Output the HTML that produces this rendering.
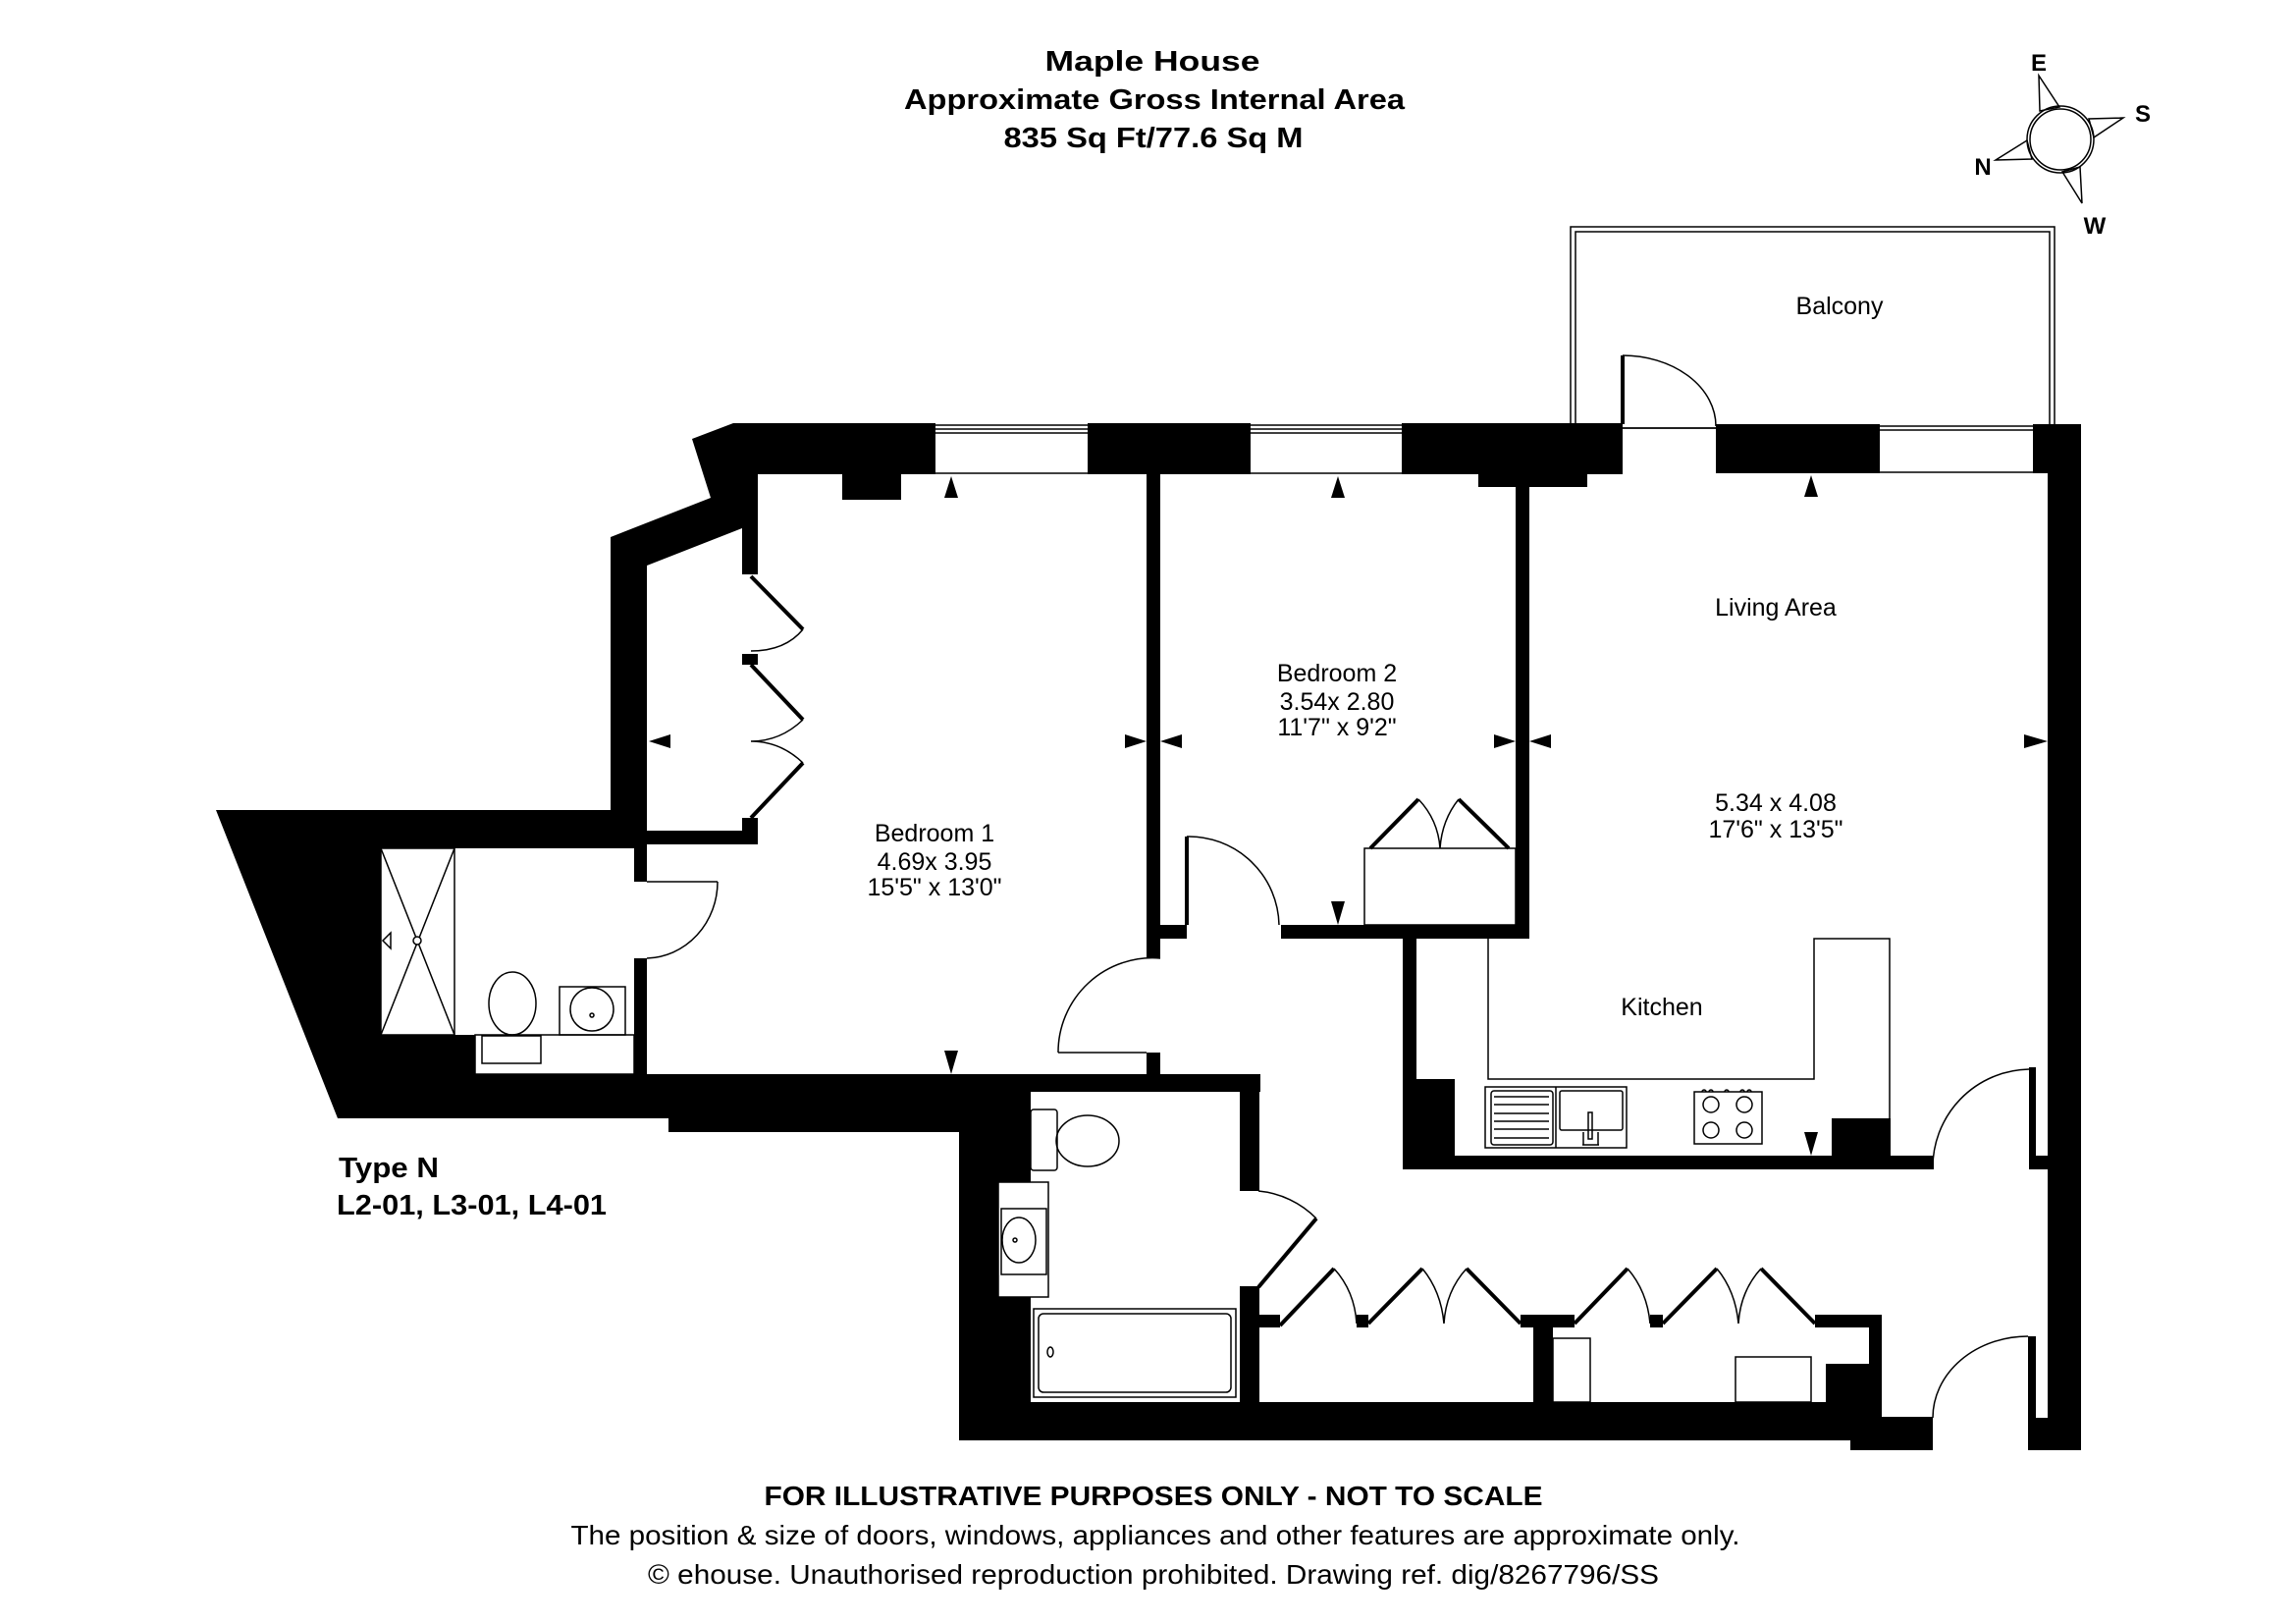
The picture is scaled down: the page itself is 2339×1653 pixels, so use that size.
<!DOCTYPE html>
<html><head><meta charset="utf-8"><style>
html,body{margin:0;padding:0;background:#fff;}
svg{display:block;}
text{font-family:"Liberation Sans",Arial,sans-serif;fill:#000;}
.b{font-weight:bold;}
.t{stroke:#000;stroke-width:1.5;fill:none;}
.tw{stroke:#000;stroke-width:1.5;fill:#fff;}
.l{stroke:#000;stroke-width:4;fill:none;}
</style></head><body>
<svg width="2339" height="1653" viewBox="0 0 2339 1653" xmlns="http://www.w3.org/2000/svg">
<rect width="2339" height="1653" fill="#fff"/>
<!-- Title -->
<text class="b" x="1174" y="72" font-size="29" text-anchor="middle" textLength="219" lengthAdjust="spacingAndGlyphs">Maple House</text>
<text class="b" x="1176" y="111" font-size="29" text-anchor="middle" textLength="510" lengthAdjust="spacingAndGlyphs">Approximate Gross Internal Area</text>
<text class="b" x="1175" y="150" font-size="29" text-anchor="middle" textLength="305" lengthAdjust="spacingAndGlyphs">835 Sq Ft/77.6 Sq M</text>

<!-- Compass -->
<g>
<circle cx="2099" cy="142" r="34" class="t" stroke-width="2"/>
<circle cx="2099" cy="142" r="31" class="t"/>
<polygon points="2077,77 2078,113 2098,109" class="t"/>
<polygon points="2163,120 2128,121 2133,140" class="t"/>
<polygon points="2033,163 2070,162 2065,143" class="t"/>
<polygon points="2121,207 2119,170 2101,175" class="t"/>
<text class="b" x="2077" y="72" font-size="24" text-anchor="middle">E</text>
<text class="b" x="2183" y="124" font-size="24" text-anchor="middle">S</text>
<text class="b" x="2020" y="178" font-size="24" text-anchor="middle">N</text>
<text class="b" x="2134" y="238" font-size="24" text-anchor="middle">W</text>
</g>

<!-- Balcony -->
<rect x="1600" y="231" width="493" height="205" class="t"/>
<rect x="1605" y="236" width="483" height="200" class="t"/>
<text x="1874" y="320" font-size="25" text-anchor="middle">Balcony</text>

<!-- Walls -->
<g fill="#000">
<rect x="747" y="431" width="906" height="52"/>
<rect x="858" y="483" width="60" height="26"/>
<rect x="1506" y="483" width="111" height="13"/>
<rect x="1748" y="432" width="167" height="50"/>
<rect x="1915" y="432" width="205" height="50"/>
<rect x="2086" y="432" width="34" height="1045"/>
<polygon points="705,447 747,431 790,431 790,483 772,483 772,585 756,585 756,538 659,576 659,846 622,846 622,547 724,507"/>
<rect x="756" y="666" width="16" height="11"/>
<rect x="756" y="833" width="16" height="27"/>
<rect x="622" y="846" width="150" height="14"/>
<polygon points="220,825 659,825 659,1139 344,1139"/>
<rect x="646" y="1094" width="638" height="18"/>
<rect x="646" y="1112" width="331" height="27"/>
<rect x="681" y="1139" width="296" height="14"/>
<rect x="977" y="1094" width="73" height="373"/>
<rect x="977" y="1428" width="940" height="39"/>
<rect x="1263" y="1094" width="20" height="119"/>
<rect x="1263" y="1310" width="20" height="157"/>
<rect x="1168" y="483" width="14" height="493"/>
<rect x="1182" y="942" width="27" height="14"/>
<rect x="1168" y="1072" width="14" height="22"/>
<rect x="1305" y="942" width="253" height="14"/>
<rect x="1544" y="483" width="14" height="473"/>
<rect x="1429" y="956" width="14" height="235"/>
<rect x="1429" y="1099" width="53" height="92"/>
<rect x="1429" y="1177" width="541" height="14"/>
<rect x="1866" y="1139" width="60" height="38"/>
<rect x="2067" y="1087" width="7" height="104"/>
<rect x="2067" y="1177" width="19" height="14"/>
<rect x="1282" y="1339" width="22" height="13"/>
<rect x="1382" y="1339" width="12" height="13"/>
<rect x="1549" y="1339" width="55" height="13"/>
<rect x="1562" y="1339" width="20" height="90"/>
<rect x="1681" y="1339" width="13" height="13"/>
<rect x="1849" y="1339" width="68" height="13"/>
<rect x="1904" y="1339" width="13" height="105"/>
<rect x="1860" y="1389" width="57" height="40"/>
<rect x="1885" y="1428" width="32" height="20"/>
<rect x="1885" y="1443" width="84" height="34"/>
<rect x="2066" y="1361" width="8" height="83"/>
<rect x="2066" y="1444" width="54" height="33"/>
</g>

<rect x="388" y="864" width="258" height="190" fill="#fff"/>
<rect x="484" y="1053" width="162" height="41" fill="#fff"/>
<rect x="646" y="898" width="14" height="78" fill="#fff"/>

<!-- windows -->
<g>
<rect x="953" y="431" width="155" height="52" fill="#fff"/>
<rect x="1274" y="431" width="154" height="52" fill="#fff"/>
<rect x="1915" y="432" width="156" height="50" fill="#fff"/>
<path d="M953 433H1108M953 437H1108M953 441H1108M953 482H1108 M1274 433H1428M1274 437H1428M1274 441H1428M1274 482H1428 M1915 434H2071M1915 438H2071M1915 481H2071" class="t"/>
</g>

<!-- Bathroom 1 fixtures -->
<rect x="388" y="864" width="75" height="190" class="t"/>
<path d="M388 864L463 1054M463 864L388 1054" class="t" stroke-width="1"/>
<circle cx="425" cy="958" r="4" class="tw"/>
<polygon points="398,950 390,958 398,966" class="t"/>
<ellipse cx="522" cy="1022" rx="24" ry="32" class="t"/>
<rect x="491" y="1055" width="60" height="28" class="t"/>
<rect x="570" y="1005" width="67" height="49" class="t"/>
<circle cx="603" cy="1028" r="22" class="t"/>
<circle cx="603" cy="1034" r="2" class="t"/>
<rect x="484" y="1054" width="162" height="40" class="t"/>
<path d="M659 898H731" class="t"/>
<path d="M731 898A74 78 0 0 1 659 976" class="t"/>

<!-- Bed1 wardrobe doors -->
<path d="M765 587L818 641M765 677L818 733M818 777L765 833" class="l"/>
<path d="M818 641Q800 663 765 663M818 733Q795 755 765 755Q795 755 818 777" class="t"/>

<!-- Bed2 wardrobe -->
<rect x="1390" y="864" width="154" height="78" class="t"/>
<path d="M1396 864L1445 814M1537 864L1486 814" class="l"/>
<path d="M1445 814Q1465 835 1467 864Q1469 835 1486 814" class="t"/>

<!-- doors -->
<path d="M1078 1072H1168" class="t"/>
<path d="M1078 1072A96 96 0 0 1 1182 976" class="t"/>
<path d="M1209 942V852" class="l" stroke-width="3"/>
<path d="M1209 852A92 92 0 0 1 1303 942" class="t"/>
<path d="M1653 432V362" class="l" stroke-width="4"/>
<path d="M1653 362A95 72 0 0 1 1748 434" class="t"/>
<path d="M2067 1089A100 100 0 0 0 1969 1191" class="t"/>
<path d="M2066 1361A97 83 0 0 0 1969 1444" class="t"/>
<path d="M1282 1311L1341 1241" class="l"/>
<path d="M1341 1241A95 95 0 0 0 1282 1213" class="t"/>

<!-- Bathroom 2 fixtures -->
<rect x="1050" y="1130" width="27" height="62" rx="3" class="tw"/>
<ellipse cx="1108" cy="1162" rx="32" ry="26" class="t"/>
<rect x="1017" y="1204" width="51" height="117" class="tw"/>
<rect x="1020" y="1231" width="46" height="67" class="t"/>
<ellipse cx="1038" cy="1263" rx="17" ry="23" class="t"/>
<circle cx="1034" cy="1263" r="2" class="t"/>
<rect x="1053" y="1333" width="206" height="90" class="t"/>
<rect x="1058" y="1338" width="196" height="80" rx="5" class="t"/>
<ellipse cx="1070" cy="1377" rx="3" ry="5" class="t"/>

<!-- Kitchen -->
<path d="M1516 955V1099H1848V956H1925V1139" class="t"/>
<rect x="1513" y="1107" width="144" height="62" class="t"/>
<path d="M1585 1107V1169" class="t"/>
<rect x="1519" y="1111" width="63" height="55" rx="3" class="t"/>
<path d="M1522 1117H1578M1522 1125H1578M1522 1134H1578M1522 1142H1578M1522 1150H1578M1522 1159H1578" class="t" stroke-width="1"/>
<rect x="1589" y="1111" width="64" height="40" rx="2" class="t"/>
<rect x="1618" y="1133" width="4" height="27" class="t"/>
<path d="M1613 1166V1153M1628 1166V1153M1612 1166H1629" class="t"/>
<rect x="1726" y="1112" width="69" height="53" class="t"/>
<circle cx="1743" cy="1125" r="8" class="t"/><circle cx="1777" cy="1125" r="8" class="t"/>
<circle cx="1743" cy="1151" r="8" class="t"/><circle cx="1777" cy="1151" r="8" class="t"/>
<path d="M1734 1112a2 2 0 0 1 4 0M1741 1112a2 2 0 0 1 4 0M1757 1112a2 2 0 0 1 4 0M1773 1112a2 2 0 0 1 4 0M1780 1112a2 2 0 0 1 4 0" class="t" stroke-width="1"/>

<!-- Hall wardrobes -->
<path d="M1304 1350L1359 1292M1394 1348L1449 1292M1494 1292L1549 1348M1604 1348L1658 1292M1694 1348L1749 1292M1794 1292L1849 1348" class="l"/>
<path d="M1359 1292Q1380 1315 1382 1348M1449 1292Q1468 1315 1471 1348Q1473 1315 1494 1292M1658 1292Q1678 1315 1681 1348M1749 1292Q1768 1315 1771 1348Q1773 1315 1794 1292" class="t"/>
<rect x="1582" y="1363" width="38" height="65" class="t"/>
<rect x="1768" y="1382" width="77" height="46" class="t"/>

<!-- arrows -->
<g fill="#000">
<polygon points="969,485 962,507 976,507"/>
<polygon points="1363,485 1356,507 1370,507"/>
<polygon points="1845,484 1838,506 1852,506"/>
<polygon points="661,755 683,748 683,762"/>
<polygon points="1168,755 1146,748 1146,762"/>
<polygon points="1182,755 1204,748 1204,762"/>
<polygon points="1544,755 1522,748 1522,762"/>
<polygon points="1558,755 1580,748 1580,762"/>
<polygon points="2086,755 2062,748 2062,762"/>
<polygon points="969,1094 962,1070 976,1070"/>
<polygon points="1363,942 1356,918 1370,918"/>
<polygon points="1845,1177 1838,1153 1852,1153"/>
</g>

<!-- Room labels -->
<g font-size="25" text-anchor="middle">
<text x="952" y="857">Bedroom 1</text>
<text x="952" y="886">4.69x 3.95</text>
<text x="952" y="912">15'5" x 13'0"</text>
<text x="1362" y="694">Bedroom 2</text>
<text x="1362" y="723">3.54x 2.80</text>
<text x="1362" y="749">11'7" x 9'2"</text>
<text x="1809" y="627">Living Area</text>
<text x="1809" y="826">5.34 x 4.08</text>
<text x="1809" y="853">17'6" x 13'5"</text>
<text x="1693" y="1034">Kitchen</text>
</g>

<text class="b" x="345" y="1199" font-size="29" textLength="102" lengthAdjust="spacingAndGlyphs">Type N</text>
<text class="b" x="343" y="1237" font-size="29" textLength="275" lengthAdjust="spacingAndGlyphs">L2-01, L3-01, L4-01</text>

<!-- Footer -->
<text class="b" x="1175" y="1533" font-size="28" text-anchor="middle" textLength="793" lengthAdjust="spacingAndGlyphs">FOR ILLUSTRATIVE PURPOSES ONLY - NOT TO SCALE</text>
<text x="1177" y="1573" font-size="28" text-anchor="middle" textLength="1191" lengthAdjust="spacingAndGlyphs">The position &amp; size of doors, windows, appliances and other features are approximate only.</text>
<text x="1175" y="1613" font-size="28" text-anchor="middle" textLength="1030" lengthAdjust="spacingAndGlyphs">© ehouse. Unauthorised reproduction prohibited. Drawing ref. dig/8267796/SS</text>
</svg>
</body></html>
